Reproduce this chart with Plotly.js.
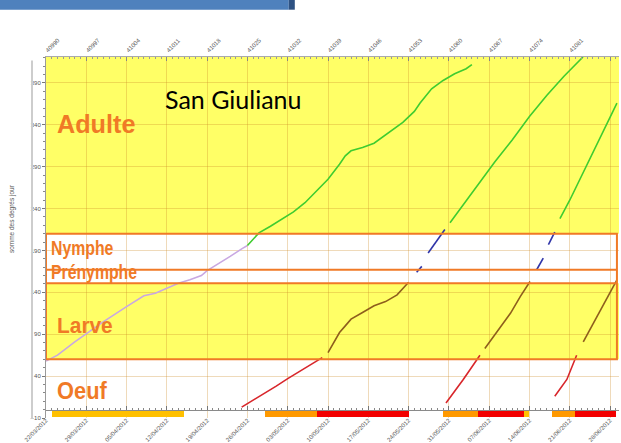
<!DOCTYPE html>
<html><head><meta charset="utf-8">
<script src="https://cdn.plot.ly/plotly-3.0.1.min.js"></script>
<style>html,body{margin:0;padding:0;background:#fff;overflow:hidden}</style>
</head><body><div id="chart" style="width:621px;height:443px"></div>
<script>
// Axe des dates (numéros de série Excel) et libellés
const weekSerials = [40990, 40997, 41004, 41011, 41018, 41025, 41032, 41039, 41046, 41053, 41060, 41067, 41074, 41081, 41088];
const weekLabels = ['22/03/2012','29/03/2012','05/04/2012','12/04/2012','19/04/2012','26/04/2012','03/05/2012','10/05/2012','17/05/2012','24/05/2012','31/05/2012','07/06/2012','14/06/2012','21/06/2012','28/06/2012'];

// Seuils des stades (somme des degrés jour)
const stageNames = ['Oeuf', 'Larve', 'Prénymphe', 'Nymphe', 'Adulte'];
const stageLower = [0, 60, 151, 167, 210];

// Génération hivernante
const g0PreX = [40990, 40992, 40995, 40997, 41000, 41004, 41007, 41009, 41011, 41013, 41015, 41017, 41018, 41020, 41022, 41024, 41025];
const g0PreY = [58, 65, 81, 91, 105, 123, 136, 139, 145, 151, 155, 160, 166, 174, 183, 192, 196];
const g0AdX = [41025, 41027, 41029, 41031, 41033, 41035, 41037, 41039, 41041, 41042, 41043, 41045, 41047, 41048, 41050, 41052, 41054, 41055, 41057, 41059, 41061, 41063, 41064];
const g0AdY = [196, 211, 219, 228, 236, 247, 261, 275, 293, 303, 309, 313, 318, 323, 333, 343, 356, 366, 383, 393, 401, 407, 412];

// 1re génération
const g1OeufX = [41024, 41026, 41028, 41030, 41032, 41034, 41036, 41038];
const g1OeufY = [3, 11, 20, 28, 37, 45, 54, 62];
const g1LarveX = [41039, 41040, 41041, 41042, 41043, 41045, 41047, 41049, 41051, 41053];
const g1LarveY = [68, 80, 92, 100, 108, 116, 124, 129, 137, 152];
const g1PreNX = [41054.4, 41055.3];
const g1PreNY = [164, 171];
const g1NymX = [41056.4, 41059.3];
const g1NymY = [187, 215];
const g1AdX = [41060.2, 41062, 41065, 41068, 41071, 41074, 41077, 41080, 41083.3];
const g1AdY = [223, 240, 268, 296, 322, 350, 375, 398, 421];

// 2e génération
const g2OeufX = [41059.5, 41062.5, 41065.4];
const g2OeufY = [8, 36, 65];
const g2LarveX = [41066.25, 41068.3, 41070.7, 41072.4, 41074.1];
const g2LarveY = [73, 93, 115, 135, 153];
const g2PreNX = [41075.25, 41076.4];
const g2PreNY = [167, 181];
const g2NymX = [41077.3, 41078.4];
const g2NymY = [197, 212];
const g2AdX = [41079.3, 41081, 41089.2];
const g2AdY = [228, 250, 366];

// 3e génération
const g3OeufX = [41078.4, 41080.5, 41082.2];
const g3OeufY = [16, 36, 65];
const g3LarveX = [41083.35, 41089.2];
const g3LarveY = [81, 155];

// Périodes de risque (bandeau du bas)
const periodStart = [40991, 41028, 41037, 41059, 41065, 41073, 41078, 41082];
const periodEnd   = [41014, 41037, 41053, 41065, 41073, 41074, 41082, 41089];
const periodLevel = ['faible', 'moyen', 'fort', 'moyen', 'fort', 'faible', 'moyen', 'fort'];

// ---- styles ----
const levelColor = {faible: '#FFC000', moyen: '#FF9900', fort: '#F20000'};
const C = {lav: '#C9A8E2', green: '#3FCC30', red: '#D8262B', brown: '#8E5E1C', blue: '#2F34A8'};
const X_RANGE = [40990, 41089.56];
const Y_RANGE = [-10, 421];
const BOX_RIGHT = 41089.2;
const BAR_BASE = -9, BAR_TOP = -1.5;
const gridCol = 'rgba(205,140,40,0.32)';
const stageCol = '#F07A26';

function line(x, y, color, dash) {
  return {x: x, y: y, type: 'scatter', mode: 'lines', xaxis: 'x', yaxis: 'y',
    line: {color: color, width: 1.6, dash: dash || 'solid'}, hoverinfo: 'skip', showlegend: false};
}
const traces = [
  line(g0PreX, g0PreY, C.lav), line(g0AdX, g0AdY, C.green),
  line(g1OeufX, g1OeufY, C.red), line(g1LarveX, g1LarveY, C.brown),
  line(g1PreNX, g1PreNY, C.blue), line(g1NymX, g1NymY, C.blue), line(g1AdX, g1AdY, C.green),
  line(g2OeufX, g2OeufY, C.red), line(g2LarveX, g2LarveY, C.brown),
  line(g2PreNX, g2PreNY, C.blue), line(g2NymX, g2NymY, C.blue), line(g2AdX, g2AdY, C.green),
  line(g3OeufX, g3OeufY, C.red), line(g3LarveX, g3LarveY, C.brown)
];
traces.push({
  type: 'bar', xaxis: 'x2', yaxis: 'y',
  x: periodStart.map((s, i) => (s + periodEnd[i]) / 2),
  width: periodStart.map((s, i) => periodEnd[i] - s),
  base: periodStart.map(() => BAR_BASE),
  y: periodStart.map(() => BAR_TOP - BAR_BASE),
  marker: {color: periodLevel.map(l => levelColor[l]), line: {width: 0}},
  hoverinfo: 'skip', showlegend: false
});

// bandes de fond (Larve et Adulte en jaune)
const yellow = '#FFFF66';
const shapes = [];
shapes.push({type: 'rect', xref: 'paper', yref: 'y', x0: 0, x1: 1, y0: stageLower[1], y1: stageLower[2], fillcolor: yellow, line: {width: 0}, layer: 'below'});
shapes.push({type: 'rect', xref: 'paper', yref: 'y', x0: 0, x1: 1, y0: stageLower[4], y1: Y_RANGE[1], fillcolor: yellow, line: {width: 0}, layer: 'below'});
// cadre orange des stades
shapes.push({type: 'rect', xref: 'x', yref: 'y', x0: X_RANGE[0], x1: BOX_RIGHT, y0: stageLower[1], y1: stageLower[4], line: {color: stageCol, width: 2}, fillcolor: 'rgba(0,0,0,0)'});
[stageLower[2], stageLower[3]].forEach(v => shapes.push({type: 'line', xref: 'x', yref: 'y', x0: X_RANGE[0], x1: BOX_RIGHT, y0: v, y1: v, line: {color: stageCol, width: 2}}));
// décor: bandeau bleu et trait gris
shapes.push({type: 'rect', xref: 'paper', yref: 'paper', x0: -0.0803, x1: 0.4237, y0: 1.131, y1: 1.16, fillcolor: '#4F81BD', line: {width: 0}});
shapes.push({type: 'rect', xref: 'paper', yref: 'paper', x0: 0.4237, x1: 0.4342, y0: 1.131, y1: 1.16, fillcolor: '#2E5283', line: {width: 0}});
shapes.push({type: 'line', xref: 'paper', yref: 'paper', x0: -0.0244, x1: -0.0244, y0: -0.003, y1: 0.99, line: {color: '#CDCDCD', width: 2}});

const stageFont = {family: '"Liberation Sans", Arial, sans-serif', weight: 'bold', color: stageCol};
// [x (paper), y (données), taille, compression horizontale]
const stageLabelPos = {Oeuf: [0.0157, 22, 23, 0.95], Larve: [0.0157, 100, 22, 0.95], 'Prénymphe': [0.006, 164, 20, 0.79], Nymphe: [0.006, 193, 20, 0.79], Adulte: [0.0157, 341, 26, 0.97]};
const annotations = stageNames.map(n => ({
  text: n, xref: 'paper', yref: 'y', x: stageLabelPos[n][0], y: stageLabelPos[n][1],
  xanchor: 'left', yanchor: 'middle', showarrow: false,
  font: Object.assign({size: stageLabelPos[n][2]}, stageFont)
}));
annotations.push({text: 'San Giulianu', xref: 'paper', yref: 'paper', x: 0.326, y: 0.884, xanchor: 'center', yanchor: 'middle', showarrow: false,
  font: {family: 'Lato, "Noto Sans", sans-serif', size: 25, color: '#000'}});
annotations.push({text: 'somme des degrés jour', xref: 'paper', yref: 'paper', x: -0.0593, y: 0.551, xanchor: 'center', yanchor: 'middle', textangle: -90, showarrow: false,
  font: {family: '"Liberation Sans", sans-serif', size: 6.5, color: '#555'}});

const tickFont = {family: '"Liberation Sans", sans-serif', size: 6, color: '#555'};
const layout = {
  width: 621, height: 443,
  margin: {l: 46, r: 2, t: 57, b: 25, pad: 0},
  paper_bgcolor: '#fff', plot_bgcolor: '#fff',
  showlegend: false, bargap: 0,
  xaxis: {
    type: 'linear', range: X_RANGE, tickmode: 'array', tickvals: weekSerials, ticktext: weekLabels,
    tickangle: -45, tickfont: tickFont, showgrid: true, gridcolor: gridCol, gridwidth: 1, zeroline: false,
    showline: true, linecolor: '#8a8a8a', linewidth: 1, anchor: 'free', position: (0 - Y_RANGE[0]) / (Y_RANGE[1] - Y_RANGE[0]),
    ticks: 'inside', ticklen: 4, tickcolor: '#777', ticklabelstandoff: 4,
    minor: {tickmode: 'linear', tick0: 40990, dtick: 1, ticks: 'inside', ticklen: 2, tickcolor: '#888', showgrid: false}
  },
  xaxis2: {
    type: 'linear', range: X_RANGE, overlaying: 'x', side: 'top', anchor: 'y',
    tickmode: 'array', tickvals: weekSerials, ticktext: weekSerials.map(String),
    tickangle: -45, tickfont: tickFont, showgrid: false, zeroline: false,
    showline: true, linecolor: '#aaa', ticks: 'inside', ticklen: 4, tickcolor: '#888',
    minor: {tickmode: 'linear', tick0: 40990, dtick: 1, ticks: 'inside', ticklen: 2, tickcolor: '#999', showgrid: false}
  },
  yaxis: {
    range: Y_RANGE, tickmode: 'linear', tick0: -10, dtick: 50, tickfont: tickFont,
    showgrid: true, gridcolor: gridCol, gridwidth: 1, zeroline: false,
    showline: true, linecolor: '#9a9a9a', linewidth: 1, ticks: 'outside', ticklen: 3, tickcolor: '#777',
    minor: {tickmode: 'linear', tick0: -10, dtick: 10, ticks: 'outside', ticklen: 2, tickcolor: '#888', showgrid: false}
  },
  shapes: shapes, annotations: annotations
};
Plotly.newPlot('chart', traces, layout, {staticPlot: true, displayModeBar: false}).then(gd => {
  // compression horizontale des libellés de stades (police étroite)
  const svgNS = 'http://www.w3.org/2000/svg';
  gd.querySelectorAll('.annotation').forEach(a => {
    const i = +a.getAttribute('data-index');
    if (!(i < stageNames.length)) return;
    const s = stageLabelPos[stageNames[i]][3];
    const t = a.querySelector('text');
    if (!t || s === 1) return;
    const g = document.createElementNS(svgNS, 'g');
    t.parentNode.insertBefore(g, t); g.appendChild(t);
    const bb = g.getBBox();
    g.setAttribute('transform', 'translate(' + bb.x + ',0) scale(' + s + ',1) translate(' + (-bb.x) + ',0)');
  });
});
</script></body></html>
